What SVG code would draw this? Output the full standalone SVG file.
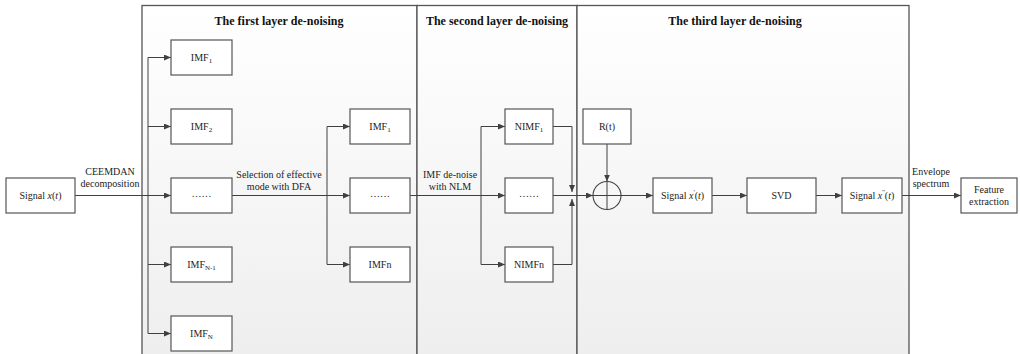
<svg xmlns="http://www.w3.org/2000/svg" width="1020" height="354" viewBox="0 0 1020 354">
<defs>
<linearGradient id="pg" x1="0" y1="0" x2="0" y2="1">
<stop offset="0" stop-color="#ffffff"/>
<stop offset="1" stop-color="#eeeeee"/>
</linearGradient>
<marker id="ah" markerUnits="userSpaceOnUse" markerWidth="8" markerHeight="6" refX="7" refY="3" orient="auto">
<path d="M0,0 L7,3 L0,6 z" fill="#404040"/>
</marker>
<style>
.panel{fill:url(#pg);stroke:#555;stroke-width:1.3}
.box{fill:#fff;stroke:#555;stroke-width:1.2}
.ln{fill:none;stroke:#404040;stroke-width:1}
.arr{fill:none;stroke:#404040;stroke-width:1;marker-end:url(#ah)}
.t{font-family:"Liberation Serif","Times New Roman",serif;font-size:10px;fill:#222;text-anchor:middle}
.h{font-family:"Liberation Serif","Times New Roman",serif;font-size:12px;font-weight:bold;fill:#111;text-anchor:middle}
.sub{font-size:7px}
.it{font-style:italic}
</style>
</defs>
<rect width="1020" height="354" fill="#fff"/>
<g id="panels">
<rect class="panel" x="142" y="5.5" width="275" height="352"/>
<rect class="panel" x="417" y="5.5" width="160" height="352"/>
<rect class="panel" x="577" y="5.5" width="332" height="352"/>
<text class="h" x="279" y="25">The first layer de-noising</text>
<text class="h" x="497" y="25">The second layer de-noising</text>
<text class="h" x="735" y="25">The third layer de-noising</text>
</g>
<g id="connectors">
<path class="ln" d="M148,57.5 V333.5"/>
<path class="arr" d="M75,195.5 H171"/>
<path class="arr" d="M148,57.5 H171"/>
<path class="arr" d="M148,126.5 H171"/>
<path class="arr" d="M148,264.5 H171"/>
<path class="arr" d="M148,333.5 H171"/>
<path class="ln" d="M327,126.5 V264.5"/>
<path class="arr" d="M232,195.5 H350"/>
<path class="arr" d="M327,126.5 H350"/>
<path class="arr" d="M327,264.5 H350"/>
<path class="ln" d="M481,126.5 V264.5"/>
<path class="arr" d="M410,195.5 H505"/>
<path class="arr" d="M481,126.5 H505"/>
<path class="arr" d="M481,264.5 H505"/>
<path class="arr" d="M553,126.5 H572 V192"/>
<path class="arr" d="M553,264.5 H572 V199"/>
<path class="arr" d="M553,195.5 H593"/>
<path class="arr" d="M607,144 V181.5"/>
<path class="arr" d="M621,195.5 H653"/>
<path class="arr" d="M712,195.5 H747"/>
<path class="arr" d="M816,195.5 H842"/>
<path class="arr" d="M902,195.5 H961"/>
<text class="t" x="110" y="175">CEEMDAN</text>
<text class="t" x="110" y="187">decomposition</text>
<text class="t" x="279" y="178">Selection of effective</text>
<text class="t" x="279" y="190">mode with DFA</text>
<text class="t" x="450" y="178">IMF de-noise</text>
<text class="t" x="450" y="190">with NLM</text>
<text class="t" x="931" y="175">Envelope</text>
<text class="t" x="931" y="187">spectrum</text>
</g>
<g id="signal">
<rect class="box" x="6" y="178" width="69" height="35"/>
<text class="t" x="40.5" y="199">Signal <tspan class="it">x</tspan>(<tspan class="it">t</tspan>)</text>
</g>
<g id="imf1"><rect class="box" x="171" y="40" width="61" height="35"/><text class="t" x="201.5" y="61">IMF<tspan class="sub" dy="2">1</tspan></text></g>
<g id="imf2"><rect class="box" x="171" y="109" width="61" height="35"/><text class="t" x="201.5" y="130">IMF<tspan class="sub" dy="2">2</tspan></text></g>
<g id="imfdots"><rect class="box" x="171" y="178" width="61" height="35"/><text class="t" x="201.5" y="197">……</text></g>
<g id="imfn1"><rect class="box" x="171" y="247" width="61" height="35"/><text class="t" x="201.5" y="268">IMF<tspan class="sub" dy="2">N-1</tspan></text></g>
<g id="imfn"><rect class="box" x="171" y="316" width="61" height="35"/><text class="t" x="201.5" y="337">IMF<tspan class="sub" dy="2">N</tspan></text></g>
<g id="sel1"><rect class="box" x="350" y="109" width="60" height="35"/><text class="t" x="380" y="130">IMF<tspan class="sub" dy="2">1</tspan></text></g>
<g id="seldots"><rect class="box" x="350" y="178" width="60" height="35"/><text class="t" x="380" y="197">……</text></g>
<g id="seln"><rect class="box" x="350" y="247" width="60" height="35"/><text class="t" x="380" y="268">IMFn</text></g>
<g id="nimf1"><rect class="box" x="505" y="109" width="48" height="35"/><text class="t" x="529" y="130">NIMF<tspan class="sub" dy="2">1</tspan></text></g>
<g id="nimfdots"><rect class="box" x="505" y="178" width="48" height="35"/><text class="t" x="529" y="197">……</text></g>
<g id="nimfn"><rect class="box" x="505" y="247" width="48" height="35"/><text class="t" x="529" y="268">NIMFn</text></g>
<g id="rt"><rect class="box" x="583" y="109" width="48" height="35"/><text class="t" x="607" y="130">R(t)</text></g>
<g id="sum">
<circle cx="607" cy="195.5" r="14" fill="none" stroke="#404040" stroke-width="1.1"/>
<path class="ln" d="M593,195.5 H621 M607,181.5 V209.5"/>
</g>
<g id="signal1"><rect class="box" x="653" y="178" width="59" height="35"/><text class="t" x="682.5" y="199">Signal <tspan class="it">x</tspan><tspan class="sub" dy="-5">'</tspan><tspan dy="5">(</tspan><tspan class="it">t</tspan>)</text></g>
<g id="svd"><rect class="box" x="747" y="178" width="69" height="35"/><text class="t" x="781.5" y="199">SVD</text></g>
<g id="signal2"><rect class="box" x="842" y="178" width="60" height="35"/><text class="t" x="872" y="199">Signal <tspan class="it">x</tspan><tspan class="sub" dy="-5">''</tspan><tspan dy="5">(</tspan><tspan class="it">t</tspan>)</text></g>
<g id="feature"><rect class="box" x="961" y="178" width="56" height="35"/><text class="t" x="989" y="193">Feature</text><text class="t" x="989" y="205">extraction</text></g>
</svg>
